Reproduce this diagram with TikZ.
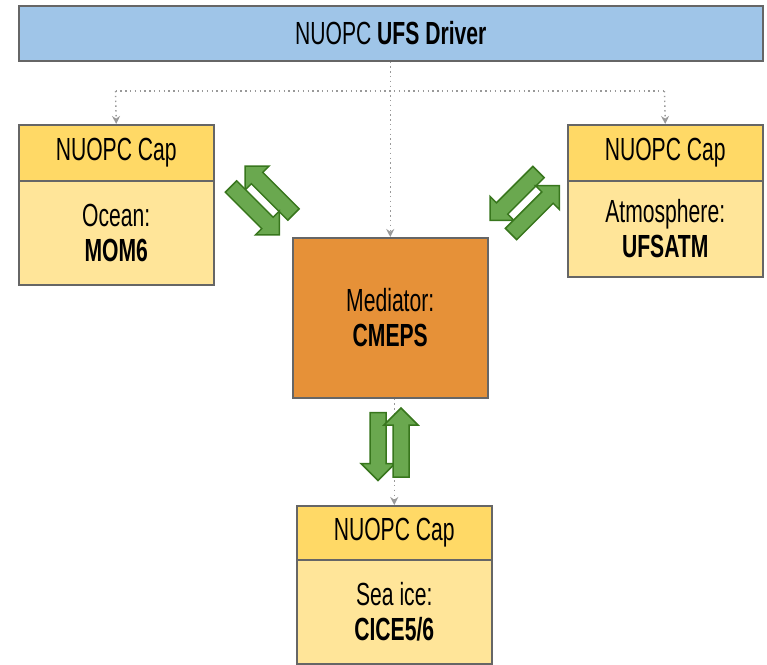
\documentclass[tikz,border=0pt]{standalone}
\usepackage{fontspec}
\setmainfont{Liberation Sans}[FakeStretch=0.66]
\usetikzlibrary{arrows.meta}
\definecolor{drvblue}{HTML}{9FC5E8}
\definecolor{caphdr}{HTML}{FFD966}
\definecolor{capbody}{HTML}{FFE599}
\definecolor{medorange}{HTML}{E69138}
\definecolor{boxline}{HTML}{666666}
\definecolor{grfill}{HTML}{6AA84F}
\definecolor{grline}{HTML}{38761D}
\definecolor{dotgray}{HTML}{999999}
\newcommand\grnarrow[3]{%
  \begin{scope}[shift={#1}, rotate=#2]
    \draw[garrow] (0,-8) -- ({#3-17},-8) -- ({#3-17},-17) -- (#3,0) -- ({#3-17},17) -- ({#3-17},8) -- (0,8) -- cycle;
  \end{scope}}
\begin{document}
\begin{tikzpicture}[x=1pt,y=-1pt,
  every node/.style={font=\fontsize{32}{35}\selectfont},
  box/.style={draw=boxline, line width=1.5pt, rectangle, inner sep=0pt, anchor=north west, align=center, text=black},
  dots/.style={draw=dotgray, line width=1.4pt, dash pattern=on 1.4pt off 3.4pt},
  dotarrow/.style={dots, -{Stealth[length=8pt,width=8pt,fill=dotgray]}},
  garrow/.style={fill=grfill, draw=grline, line width=1.5pt, line join=miter}]
\useasboundingbox (0,0) rectangle (767,664);
% driver
\node[box, fill=drvblue, minimum width=744pt, minimum height=55pt] (drv) at (18,5) {NUOPC \textbf{UFS Driver}};
% ocean
\node[box, fill=caphdr, minimum width=195pt, minimum height=56pt] (ocnh) at (18,124) {NUOPC Cap};
\node[box, fill=capbody, minimum width=195pt, minimum height=104pt] (ocnb) at (18,180) {Ocean:\\\textbf{MOM6}};
% atmosphere
\node[box, fill=caphdr, minimum width=195pt, minimum height=56pt] (atmh) at (567,124) {NUOPC Cap};
\node[box, fill=capbody, minimum width=195pt, minimum height=96pt] (atmb) at (567,180) {Atmosphere:\\\textbf{UFSATM}};
% mediator
\node[box, fill=medorange, minimum width=195pt, minimum height=160pt] (med) at (292,237) {Mediator:\\\textbf{CMEPS}};
% sea ice
\node[box, fill=caphdr, minimum width=195pt, minimum height=54pt] (iceh) at (296,505) {NUOPC Cap};
\node[box, fill=capbody, minimum width=195pt, minimum height=104pt] (iceb) at (296,559) {Sea ice:\\\textbf{CICE5/6}};
% dotted connectors
\coordinate (jl) at (115.5,91);
\coordinate (jr) at (664.5,91);
\draw[dots] (jl) -- (jr);
\draw[dotarrow] (drv.south -| med.north) -- (med.north);
\draw[dotarrow] (jl) -- (ocnh.north);
\draw[dotarrow] (jr) -- (atmh.north);
\draw[dotarrow] (med.south -| iceh.north) -- (iceh.north);
% green exchange arrows
\grnarrow{(293.5,214.5)}{135}{68.5}
\grnarrow{(231,186.5)}{-45}{68.5}
\grnarrow{(538.5,172)}{225}{68.5}
\grnarrow{(511,234)}{45}{68.5}
\grnarrow{(378,412.5)}{-90}{68}
\grnarrow{(401,477)}{90}{69}
\end{tikzpicture}
\end{document}
